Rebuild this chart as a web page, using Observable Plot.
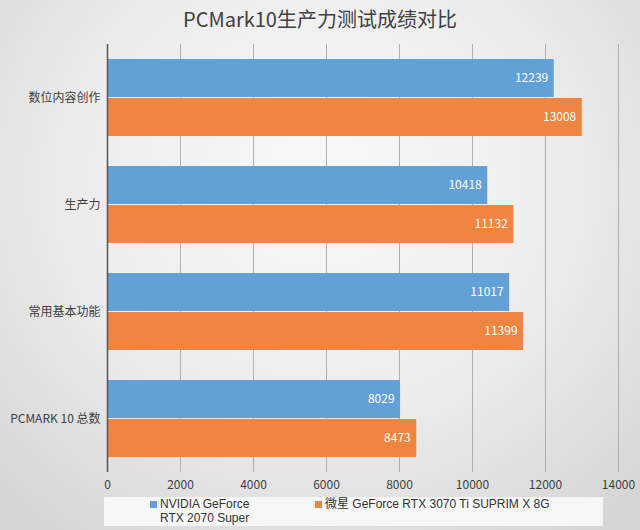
<!DOCTYPE html>
<html>
<head>
<meta charset="utf-8">
<script src="https://cdn.jsdelivr.net/npm/d3@7"></script>
<script src="https://cdn.jsdelivr.net/npm/@observablehq/plot@0.6"></script>
<style>
  body { margin: 0; }
  #wrap {
    position: relative; width: 640px; height: 530px; overflow: hidden;
    background: radial-gradient(ellipse 70% 80% at 50% 35%, #f9f9f9 0%, #ececec 55%, #d6d6d6 100%);
    font-family: "Noto Sans CJK SC", "Open Sans", sans-serif;
  }
  #title {
    position: absolute; top: 4px; left: 0; width: 640px; text-align: center;
    font-size: 20px; color: #404040; font-weight: normal;
  }
  #chart { position: absolute; top: 0; left: 0; }
  #legend {
    position: absolute; left: 104px; top: 497px; width: 499px; height: 29px;
    background: rgba(248,248,248,0.92); font-size: 12px; color: #333;
    font-family: "Liberation Sans", "Noto Sans CJK SC", sans-serif;
  }
  .line { position: absolute; line-height: 13px; height: 13px; white-space: nowrap; }
  .sw { position: absolute; width: 7px; height: 7px; }
</style>
</head>
<body>
<div id="wrap">
  <div id="chart"></div>
  <div id="title"></div>
  <div id="legend"></div>
</div>
<script>
const titleText = "PCMark10生产力测试成绩对比";
const categories = ["数位内容创作", "生产力", "常用基本功能", "PCMARK 10 总数"];
const series = ["NVIDIA GeForce RTX 2070 Super", "微星 GeForce RTX 3070 Ti SUPRIM X 8G"];
const legendLines = [["NVIDIA GeForce", "RTX 2070 Super"], ["微星 GeForce RTX 3070 Ti SUPRIM X 8G"]];
const nvidia = [12239, 10418, 11017, 8029];
const msi = [13008, 11132, 11399, 8473];
const xTicks = [0, 2000, 4000, 6000, 8000, 10000, 12000, 14000];
const colors = ["#62a0d8", "#ee8540"];

const data = categories.flatMap((c, i) => [
  {category: c, series: series[0], value: nvidia[i]},
  {category: c, series: series[1], value: msi[i]}
]);

document.getElementById("title").textContent = titleText;

const chart = Plot.plot({
  width: 640, height: 495,
  marginTop: 42, marginBottom: 22, marginLeft: 107, marginRight: 22,
  style: {background: "transparent", fontSize: "12px", color: "#404040",
          fontFamily: '"Noto Sans CJK SC", "Open Sans", sans-serif'},
  x: {domain: [0, 14000], ticks: xTicks, tickFormat: d => String(d), label: null, tickSize: 0, tickPadding: 8},
  y: {domain: series, axis: null, paddingInner: 0.025, paddingOuter: 0.36},
  fy: {domain: categories, padding: 0, label: null, axis: "left", tickSize: 0, tickPadding: 7},
  color: {domain: series, range: colors},
  marks: [
    Plot.ruleX(xTicks.slice(1), {stroke: "#b0b0b0", strokeWidth: 1}),
    Plot.barX(data, {x: "value", y: "series", fy: "category", fill: "series"}),
    Plot.text(data, {x: "value", y: "series", fy: "category", text: d => String(d.value),
      textAnchor: "end", dx: -6, fill: "white", fontSize: 12}),
    Plot.ruleX([0], {stroke: "#555", strokeWidth: 1.5})
  ]
});
document.getElementById("chart").appendChild(chart);

// legend
const legend = document.getElementById("legend");
const itemX = [56, 221];
legendLines.forEach((lines, i) => {
  const sw = document.createElement("div");
  sw.className = "sw";
  sw.style.background = colors[i];
  sw.style.left = (itemX[i] - 10) + "px";
  sw.style.top = "4px";
  legend.appendChild(sw);
  lines.forEach((t, j) => {
    const ln = document.createElement("div");
    ln.className = "line";
    ln.style.left = itemX[i] + "px";
    ln.style.top = (1 + j * 14) + "px";
    ln.textContent = t;
    legend.appendChild(ln);
  });
});
</script>
</body>
</html>
